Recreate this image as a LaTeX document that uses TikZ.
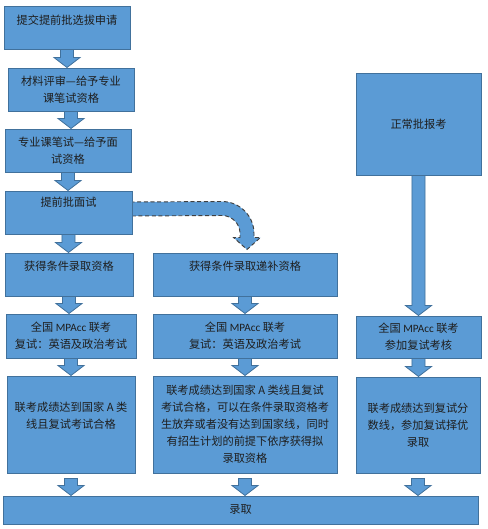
\documentclass[tikz,border=0pt]{standalone}
\usepackage{fontspec}
\setmainfont{Noto Sans CJK SC}
\newfontfamily\lat{Carlito}
\usetikzlibrary{calc,backgrounds}
\definecolor{boxfill}{HTML}{5B9BD5}
\definecolor{boxline}{HTML}{41719C}
\definecolor{txt}{HTML}{1E1E1E}
\tikzset{
  box/.style={draw=boxline, line width=0.75pt, fill=boxfill, text=txt, align=center,
    inner sep=0pt, font=\fontsize{8.4pt}{12.75pt}\selectfont},
  sz/.style 2 args={minimum width=#1*0.75pt, minimum height=#2*0.75pt},
  barrow/.style={draw=boxline, line width=0.6pt, fill=boxfill, line join=miter},
  curvearrow/.style={draw=black!75, densely dashed, line width=0.7pt, fill=boxfill},
}
\newcommand{\blockarrow}[3][-2]{%
  \path[barrow] let \p1=(#2.south), \p2=(#3.north) in
   ({\x1-4.9pt},{\y1-(#1)*0.75pt}) -- ({\x1-4.9pt},{\y2+7.5pt}) -- ({\x1-9.8pt},{\y2+7.5pt})
   -- (\x1,\y2) -- ({\x1+9.8pt},{\y2+7.5pt}) -- ({\x1+4.9pt},{\y2+7.5pt})
   -- ({\x1+4.9pt},{\y1-(#1)*0.75pt}) -- cycle;}
\begin{document}
\begin{tikzpicture}[x=0.75pt, y=-0.75pt]
\useasboundingbox (0,0) rectangle (487,529);
\node[box, sz={126}{43}, text height=7.4pt, text depth=12.25pt] (b1) at (67,27.5) {提交提前批选拔申请};
\node[box, sz={126}{43}] (b2) at (71,89.5) {材料评审—给予专业\\课笔试资格};
\node[box, sz={126}{43}] (b3) at (68,150.5) {专业课笔试—给予面\\试资格};
\node[box, sz={127}{43}, text height=7.4pt, text depth=16.75pt] (b4) at (68.5,212.5) {提前批面试};
\node[box, sz={128}{43}, text height=7.4pt, text depth=13.75pt] (b5L) at (69,274.5) {获得条件录取资格};
\node[box, sz={184}{43}, text height=7.4pt, text depth=13.75pt] (b5M) at (245,274.5) {获得条件录取递补资格};
\node[box, sz={125}{102}] (bR) at (418.5,124) {正常批报考};
\node[box, sz={130}{44}] (b6L) at (71,336) {全国 {\lat MPAcc} 联考\\复试：英语及政治考试};
\node[box, sz={184}{44}] (b6M) at (245,336) {全国 {\lat MPAcc} 联考\\复试：英语及政治考试};
\node[box, sz={125}{42}] (b6R) at (418.5,337) {全国 {\lat MPAcc} 联考\\参加复试考核};
\node[box, sz={128}{97}] (b7L) at (71,424.5) {联考成绩达到国家 A 类\\线且复试考试合格\\[1pt]\mbox{}};
\node[box, sz={184}{97}] (b7M) at (245,424.5) {联考成绩达到国家 A 类线且复试\\考试合格，可以在条件录取资格考\\生放弃或者没有达到国家线，同时\\有招生计划的前提下依序获得拟\\录取资格};
\node[box, sz={124}{96}] (b7R) at (418,425) {联考成绩达到复试分\\数线，参加复试择优\\录取};
\node[box, sz={475}{28}] (b8) at (240.5,510) {录取};
\coordinate (cs) at ($(b4.east)+(-2,-3.5)$);
\coordinate (ct) at ($(b5M.north)+(2,-3)$);
\begin{scope}[on background layer]
  \blockarrow{b1}{b2}
  \blockarrow{b2}{b3}
  \blockarrow{b3}{b4}
  \blockarrow{b4}{b5L}
  \blockarrow{b5L}{b6L}
  \blockarrow{b5M}{b6M}
  \blockarrow{bR}{b6R}
  \blockarrow{b6L}{b7L}
  \blockarrow{b6M}{b7M}
  \blockarrow{b6R}{b7R}
  \blockarrow[5]{b7L}{b8}
  \blockarrow[5]{b7M}{b8}
  \blockarrow[5]{b7R}{b8}
  \path[curvearrow] ($(cs)+(0,-7)$) -- ($(ct)+(-25,-48)$)
    arc[start angle=-90, end angle=0, radius=32]
    -- ($(ct)+(7,-12)$) -- ($(ct)+(13.5,-12)$) -- (ct) -- ($(ct)+(-13.5,-12)$)
    -- ($(ct)+(-7,-12)$) -- ($(ct)+(-7,-16)$)
    arc[start angle=0, end angle=-90, radius=18]
    -- ($(cs)+(0,7)$) -- cycle;
\end{scope}
\end{tikzpicture}
\end{document}
